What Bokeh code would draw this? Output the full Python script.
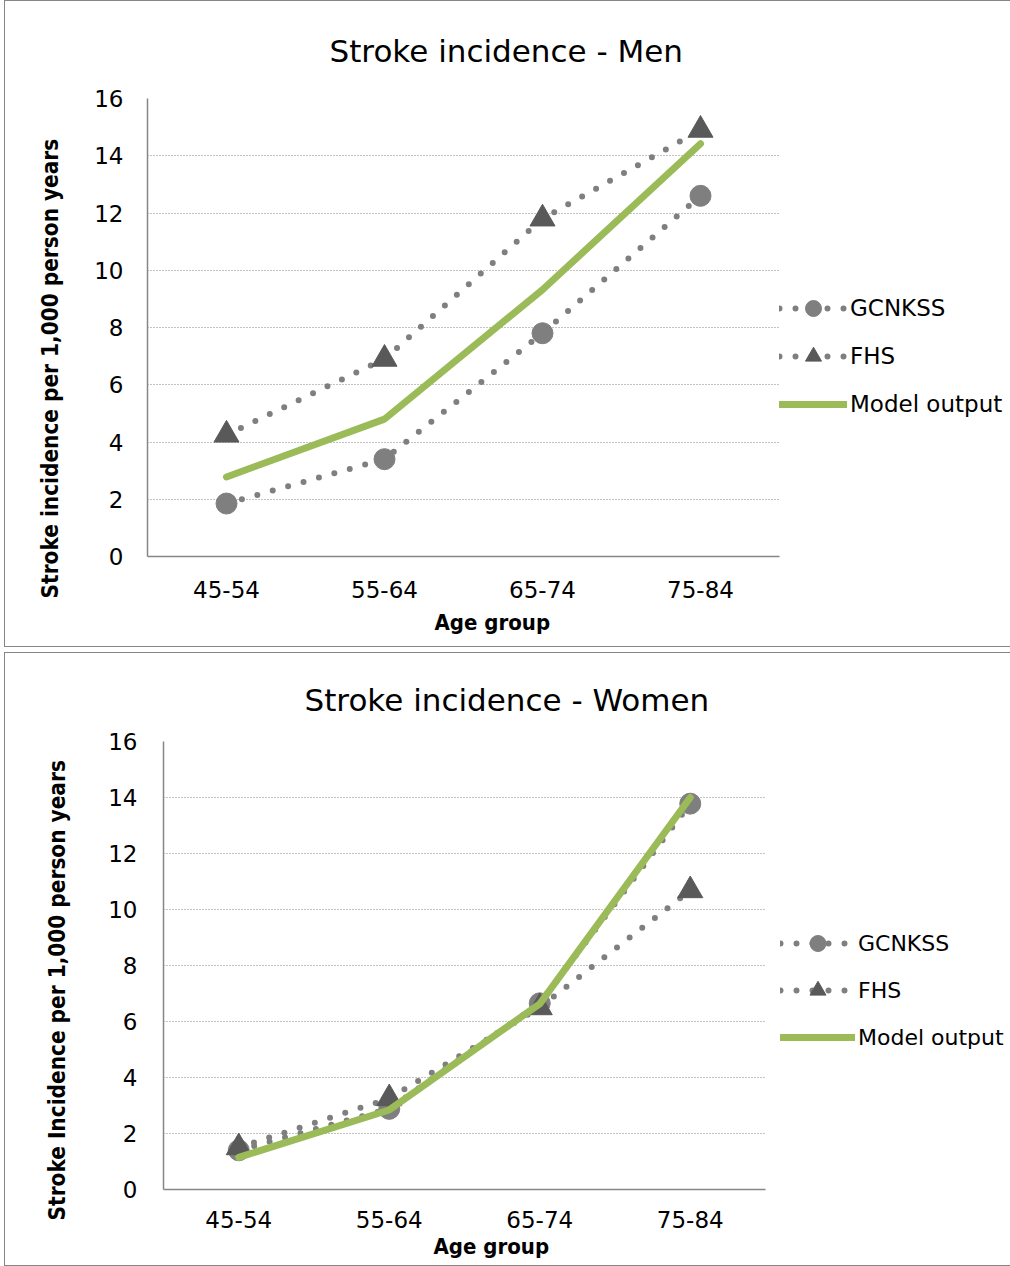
from bokeh.plotting import figure
from bokeh.models import FactorRange, Range1d, FixedTicker, Legend, LegendItem, Title
from bokeh.embed import file_html
from bokeh.resources import INLINE

# Age bands on the x axis and the y-axis tick values
age_groups = ["45-54", "55-64", "65-74", "75-84"]
y_ticks = [0, 2, 4, 6, 8, 10, 12, 14, 16]

# Stroke incidence per 1,000 person years - men
men_gcnkss = [1.85, 3.4, 7.8, 12.6]
men_fhs = [4.25, 6.9, 11.8, 14.9]
men_model = [2.78, 4.8, 9.32, 14.42]

# Stroke incidence per 1,000 person years - women
women_gcnkss = [1.4, 2.88, 6.65, 13.78]
women_fhs = [1.5, 3.25, 6.5, 10.68]
women_model = [1.15, 2.84, 6.63, 14.0]

REG_FONT = "DejaVu Sans"
BOLD_FONT = "DejaVu Sans Condensed, Liberation Sans Narrow, DejaVu Sans"
GRAY = "#7f7f7f"
DARK = "#595959"
GREEN = "#9bbb59"
AXIS = "#868686"


def make_chart(title, ylabel, gcnkss, fhs, model, *, width, height,
               frame_w, frame_h, left, top, title_off, title_std,
               tick_std, ylab_off, ylab_std, xtick_std, xlab_off, xlab_std,
               legend_loc, legend_spacing, glyph_w, legend_font, margin):
    p = figure(
        x_range=FactorRange(*age_groups, range_padding=0),
        y_range=Range1d(0, 16),
        frame_width=frame_w, frame_height=frame_h,
        min_border_left=left, min_border_top=top,
        min_border_right=width - left - frame_w,
        min_border_bottom=height - top - frame_h,
        output_backend="svg", toolbar_location=None,
        background_fill_color="white", border_fill_color="white",
        title=None,
    )
    p.margin = margin
    p.styles = {"border": f"1px solid {AXIS}"}
    p.outline_line_color = None

    # chart title
    p.add_layout(Title(text=title, align="left", offset=title_off,
                       standoff=title_std, vertical_align="middle",
                       text_font=REG_FONT, text_font_style="normal",
                       text_font_size="31px", text_color="#000000"), "above")

    # axes
    p.yaxis.ticker = FixedTicker(ticks=y_ticks)
    for ax in (p.xaxis, p.yaxis):
        ax.axis_line_color = AXIS
        ax.axis_line_width = 1.5
        ax.major_tick_line_color = None
        ax.minor_tick_line_color = None
        ax.major_tick_out = 0
        ax.major_tick_in = 0
        ax.major_label_text_font = REG_FONT
        ax.major_label_text_font_size = "23px"
        ax.major_label_text_color = "#000000"
    p.yaxis.major_label_standoff = tick_std
    p.xaxis.major_label_standoff = xtick_std

    # axis titles
    p.add_layout(Title(text=ylabel, align="left", offset=ylab_off,
                       standoff=ylab_std, text_font=BOLD_FONT,
                       text_font_style="bold", text_font_size="22.4px",
                       text_color="#000000"), "left")
    p.add_layout(Title(text="Age group", align="left", offset=xlab_off,
                       standoff=xlab_std, vertical_align="top",
                       text_font=BOLD_FONT, text_font_style="bold",
                       text_font_size="22px", text_color="#000000"), "below")

    p.xgrid.grid_line_color = None
    p.ygrid.grid_line_color = AXIS
    p.ygrid.grid_line_dash = "1 2"
    p.ygrid.grid_line_width = 1

    # GCNKSS: round dotted line with circle markers
    g_line = p.line(age_groups, gcnkss, line_color=GRAY, line_width=6,
                    line_dash="0 16", line_cap="round")
    g_pts = p.scatter(age_groups, gcnkss, marker="circle", size=21,
                      fill_color=GRAY, line_color=GRAY)
    # FHS: round dotted line with triangle markers
    f_line = p.line(age_groups, fhs, line_color=GRAY, line_width=6,
                    line_dash="0 16", line_cap="round")
    f_pts = p.scatter(age_groups, fhs, marker="triangle", size=25,
                      fill_color=DARK, line_color=DARK)
    # Model output: solid green line
    m_line = p.line(age_groups, model, line_color=GREEN, line_width=7,
                    line_cap="round", line_join="round")

    legend = Legend(
        items=[
            LegendItem(label="GCNKSS", renderers=[g_line, g_pts]),
            LegendItem(label="FHS", renderers=[f_line, f_pts]),
            LegendItem(label="Model output", renderers=[m_line]),
        ],
        location=legend_loc,
        glyph_width=glyph_w, glyph_height=40, label_height=40,
        spacing=legend_spacing, padding=0, margin=0, label_standoff=3,
        border_line_color=None, background_fill_alpha=0,
        label_text_font=REG_FONT, label_text_font_size=legend_font,
        label_text_color="#000000", label_text_baseline="middle",
    )
    p.add_layout(legend, "right")
    return p


men = make_chart(
    "Stroke incidence - Men", "Stroke incidence per 1,000 person years",
    men_gcnkss, men_fhs, men_model,
    width=1003, height=645, frame_w=632, frame_h=458, left=141, top=97,
    title_off=182, title_std=58,
    tick_std=24, ylab_off=-42, ylab_std=58, xtick_std=24,
    xlab_off=287, xlab_std=18,
    legend_loc=(0, 132), legend_spacing=8, glyph_w=68, legend_font="23px",
    margin=(0, 0, 0, 4),
)
women = make_chart(
    "Stroke incidence - Women", "Stroke Incidence per 1,000 person years",
    women_gcnkss, women_fhs, women_model,
    width=1003, height=612, frame_w=602, frame_h=448, left=158, top=88,
    title_off=141, title_std=46,
    tick_std=26, ylab_off=-31, ylab_std=72, xtick_std=21,
    xlab_off=270, xlab_std=6,
    legend_loc=(15, 132), legend_spacing=7, glyph_w=75, legend_font="22px",
    margin=(5, 0, 0, 4),
)

open("out.html", "w").write(file_html([men, women], INLINE, "Stroke incidence"))
